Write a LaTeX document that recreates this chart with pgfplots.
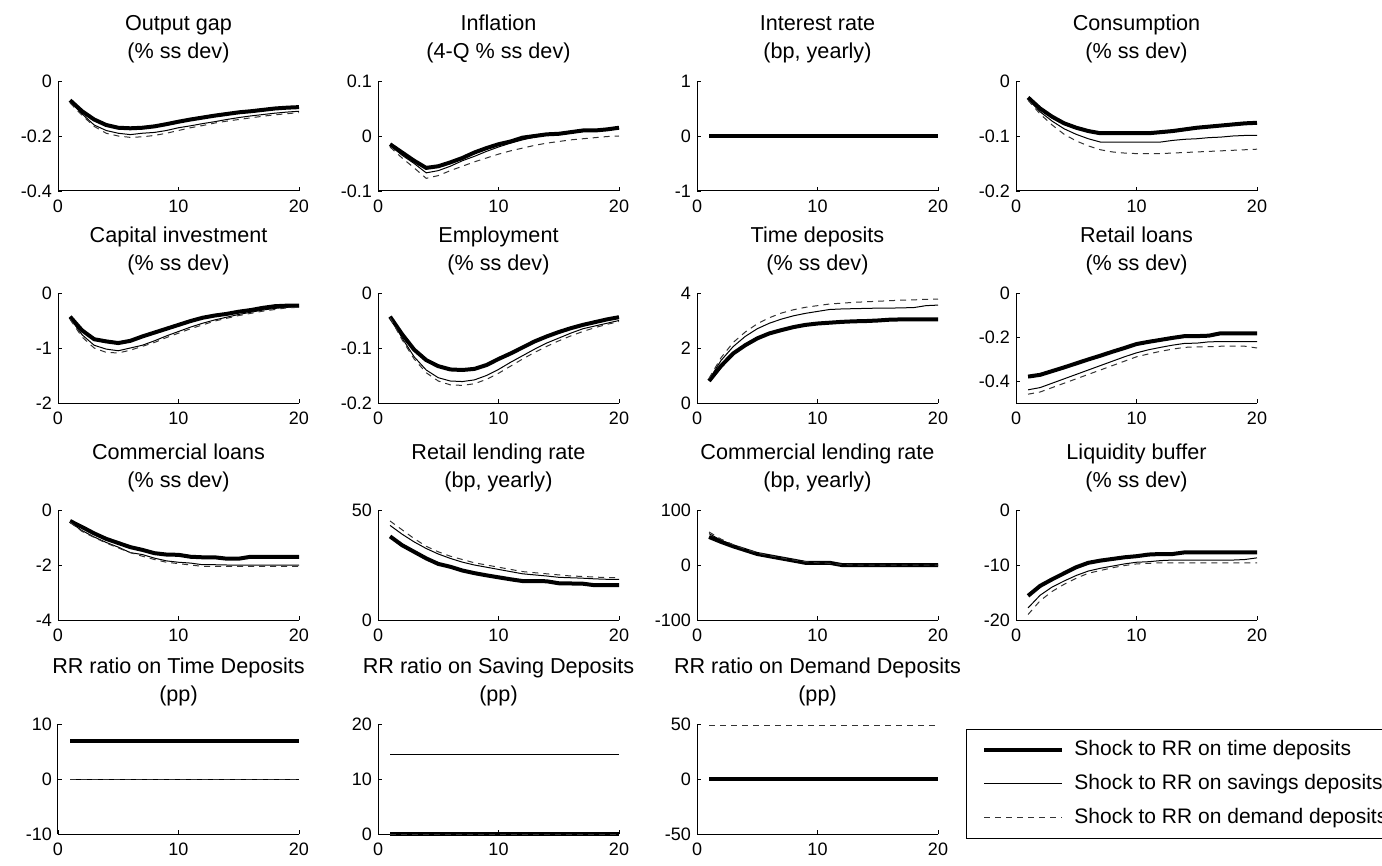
\documentclass[border=0pt]{standalone}
\usepackage{fontspec}
\setmainfont{Liberation Sans}
\usepackage{pgfplots}
\usepackage{pgfplotstable}
\pgfplotsset{compat=1.18}

\pgfplotsset{
  irf/.style={
    scale only axis, width=120.5pt, height=55pt,
    axis x line*=bottom, axis y line*=left,
    xmin=0, xmax=20, xtick={0,10,20},
    tick align=inside, major tick length=2pt,
    tick style={black, line width=0.4pt},
    axis line style={line width=0.5pt},
    ticklabel style={font=\fontsize{9}{10}\selectfont},
    yticklabel style={xshift=0.5pt},
    xticklabel style={yshift=-1pt},
    /pgf/number format/assume math mode=true,
    scaled ticks=false,
    title style={font=\fontsize{10.8}{13.6}\selectfont, align=center,
      at={(0.5,1)}, anchor=south, yshift=3pt, inner sep=0pt},
    clip=false,
  },
  s1/.style={black, line width=2pt},
  s2/.style={black, line width=0.5pt},
  s3/.style={black!80, line width=0.5pt, dash pattern=on 3pt off 2.5pt},
}

% t = quarter, a = time deposits shock, b = savings, c = demand
\pgfplotstableread{
t a b c
1 -0.070 -0.075 -0.080
2 -0.110 -0.120 -0.125
3 -0.140 -0.160 -0.165
4 -0.160 -0.180 -0.190
5 -0.170 -0.190 -0.200
6 -0.172 -0.195 -0.205
7 -0.170 -0.190 -0.203
8 -0.165 -0.187 -0.198
9 -0.157 -0.180 -0.190
10 -0.148 -0.170 -0.180
11 -0.140 -0.163 -0.170
12 -0.133 -0.155 -0.162
13 -0.126 -0.148 -0.153
14 -0.120 -0.140 -0.146
15 -0.114 -0.133 -0.140
16 -0.110 -0.127 -0.134
17 -0.105 -0.122 -0.128
18 -0.100 -0.117 -0.123
19 -0.097 -0.113 -0.119
20 -0.095 -0.110 -0.115
}\tOut

\pgfplotstableread{
t a b c
1 -0.015 -0.017 -0.020
2 -0.030 -0.035 -0.040
3 -0.045 -0.050 -0.058
4 -0.058 -0.067 -0.077
5 -0.055 -0.063 -0.072
6 -0.048 -0.055 -0.063
7 -0.040 -0.045 -0.055
8 -0.030 -0.037 -0.047
9 -0.022 -0.028 -0.040
10 -0.015 -0.020 -0.033
11 -0.010 -0.013 -0.027
12 -0.003 -0.007 -0.022
13 0.000 -0.002 -0.017
14 0.003 0.002 -0.013
15 0.004 0.004 -0.010
16 0.007 0.007 -0.007
17 0.010 0.009 -0.005
18 0.010 0.010 -0.003
19 0.012 0.012 -0.001
20 0.015 0.014 0.000
}\tInf

\pgfplotstableread{
t a b c
1 -0.030 -0.033 -0.035
2 -0.050 -0.056 -0.060
3 -0.065 -0.073 -0.080
4 -0.077 -0.087 -0.097
5 -0.085 -0.097 -0.109
6 -0.091 -0.105 -0.118
7 -0.095 -0.111 -0.125
8 -0.095 -0.111 -0.129
9 -0.095 -0.111 -0.131
10 -0.095 -0.111 -0.132
11 -0.095 -0.111 -0.132
12 -0.093 -0.111 -0.132
13 -0.091 -0.108 -0.131
14 -0.088 -0.106 -0.130
15 -0.085 -0.105 -0.129
16 -0.083 -0.103 -0.128
17 -0.081 -0.102 -0.127
18 -0.079 -0.100 -0.126
19 -0.077 -0.099 -0.125
20 -0.076 -0.099 -0.124
}\tCons

\pgfplotstableread{
t a b c
1 -0.43 -0.46 -0.48
2 -0.68 -0.76 -0.80
3 -0.84 -0.95 -1.00
4 -0.88 -1.02 -1.08
5 -0.91 -1.05 -1.09
6 -0.87 -1.00 -1.04
7 -0.79 -0.95 -0.97
8 -0.72 -0.87 -0.90
9 -0.65 -0.78 -0.81
10 -0.58 -0.70 -0.73
11 -0.51 -0.62 -0.65
12 -0.45 -0.55 -0.58
13 -0.41 -0.49 -0.51
14 -0.38 -0.44 -0.46
15 -0.34 -0.39 -0.41
16 -0.31 -0.35 -0.37
17 -0.27 -0.31 -0.33
18 -0.24 -0.28 -0.30
19 -0.23 -0.26 -0.27
20 -0.23 -0.25 -0.26
}\tInv

\pgfplotstableread{
t a b c
1 -0.043 -0.043 -0.045
2 -0.075 -0.082 -0.085
3 -0.103 -0.116 -0.120
4 -0.122 -0.140 -0.145
5 -0.133 -0.154 -0.160
6 -0.139 -0.160 -0.167
7 -0.140 -0.161 -0.168
8 -0.138 -0.158 -0.165
9 -0.131 -0.150 -0.157
10 -0.120 -0.139 -0.146
11 -0.110 -0.126 -0.133
12 -0.099 -0.114 -0.120
13 -0.088 -0.102 -0.108
14 -0.079 -0.091 -0.097
15 -0.071 -0.082 -0.087
16 -0.064 -0.073 -0.078
17 -0.058 -0.065 -0.070
18 -0.053 -0.060 -0.063
19 -0.048 -0.055 -0.057
20 -0.044 -0.050 -0.052
}\tEmp

\pgfplotstableread{
t a b c
1 0.80 0.85 0.90
2 1.35 1.55 1.65
3 1.80 2.05 2.20
4 2.10 2.42 2.58
5 2.35 2.70 2.88
6 2.53 2.90 3.10
7 2.65 3.05 3.27
8 2.76 3.17 3.39
9 2.84 3.26 3.48
10 2.89 3.33 3.54
11 2.92 3.40 3.60
12 2.95 3.42 3.63
13 2.97 3.43 3.66
14 2.98 3.44 3.68
15 3.00 3.45 3.70
16 3.03 3.45 3.72
17 3.04 3.46 3.74
18 3.04 3.47 3.75
19 3.04 3.54 3.77
20 3.04 3.56 3.78
}\tTD

\pgfplotstableread{
t a b c
1 -0.380 -0.440 -0.460
2 -0.372 -0.430 -0.450
3 -0.355 -0.410 -0.430
4 -0.338 -0.390 -0.410
5 -0.320 -0.370 -0.390
6 -0.302 -0.350 -0.370
7 -0.285 -0.330 -0.350
8 -0.267 -0.310 -0.330
9 -0.250 -0.290 -0.310
10 -0.232 -0.272 -0.290
11 -0.222 -0.258 -0.277
12 -0.213 -0.247 -0.265
13 -0.204 -0.237 -0.255
14 -0.196 -0.229 -0.247
15 -0.196 -0.228 -0.245
16 -0.194 -0.222 -0.244
17 -0.183 -0.221 -0.242
18 -0.183 -0.221 -0.242
19 -0.183 -0.221 -0.242
20 -0.183 -0.221 -0.250
}\tRL

\pgfplotstableread{
t a b c
1 -0.40 -0.45 -0.45
2 -0.62 -0.75 -0.78
3 -0.85 -0.98 -1.00
4 -1.05 -1.18 -1.20
5 -1.20 -1.35 -1.38
6 -1.35 -1.55 -1.55
7 -1.45 -1.62 -1.68
8 -1.57 -1.75 -1.80
9 -1.62 -1.85 -1.90
10 -1.63 -1.90 -1.95
11 -1.70 -1.93 -2.00
12 -1.72 -1.99 -2.05
13 -1.72 -1.99 -2.05
14 -1.77 -2.00 -2.05
15 -1.77 -2.00 -2.05
16 -1.70 -2.00 -2.05
17 -1.70 -2.00 -2.05
18 -1.70 -2.00 -2.05
19 -1.70 -2.00 -2.05
20 -1.70 -2.00 -2.05
}\tCL

\pgfplotstableread{
t a b c
1 38.0 43.0 45.0
2 34.0 39.0 41.0
3 31.0 35.5 37.0
4 28.0 32.5 33.5
5 25.5 30.0 31.0
6 24.2 28.0 29.0
7 22.5 26.3 27.5
8 21.3 25.0 26.0
9 20.3 24.0 25.0
10 19.4 23.0 24.0
11 18.5 22.0 23.0
12 17.7 21.0 22.0
13 17.7 20.5 21.5
14 17.6 20.0 21.0
15 16.7 19.4 20.5
16 16.6 19.2 20.0
17 16.5 19.0 19.8
18 15.8 18.7 19.5
19 15.8 18.5 19.3
20 15.8 18.5 19.2
}\tRLR

\pgfplotstableread{
t a b c
1 51 57 60
2 42 45 47
3 34 36 37
4 27 28 29
5 20 21 22
6 16 17 17
7 12 12 13
8 8 8 9
9 4 5 6
10 4 4 4
11 4 3 3
12 0 1 1
13 0 0 0
14 0 0 0
15 0 0 0
16 0 0 0
17 0 0 0
18 0 0 0
19 0 0 0
20 0 0 0
}\tCLR

\pgfplotstableread{
t a b c
1 -15.6 -17.8 -19.0
2 -13.8 -15.5 -16.5
3 -12.6 -14.0 -14.8
4 -11.5 -12.9 -13.5
5 -10.4 -11.9 -12.4
6 -9.6 -11.1 -11.5
7 -9.2 -10.6 -11.0
8 -8.9 -10.2 -10.5
9 -8.6 -9.8 -10.1
10 -8.4 -9.5 -9.8
11 -8.1 -9.4 -9.7
12 -8.0 -9.2 -9.6
13 -8.0 -9.1 -9.6
14 -7.7 -9.1 -9.6
15 -7.7 -9.1 -9.6
16 -7.7 -9.1 -9.6
17 -7.7 -9.1 -9.6
18 -7.7 -9.1 -9.6
19 -7.7 -9.0 -9.6
20 -7.7 -8.7 -9.6
}\tLiq

\begin{document}
\begin{tikzpicture}
\path[use as bounding box] (0pt,0pt) rectangle (691pt,-433pt);

% ---- row 1
\begin{axis}[irf, at={(29pt,-95.5pt)}, anchor=south west,
  ymin=-0.4, ymax=0, ytick={-0.4,-0.2,0}, title={Output gap\\(\% ss dev)}]
\addplot[s1] table[x=t,y=a] {\tOut};
\addplot[s2] table[x=t,y=b] {\tOut};
\addplot[s3] table[x=t,y=c] {\tOut};
\end{axis}
\begin{axis}[irf, at={(189pt,-95.5pt)}, anchor=south west,
  ymin=-0.1, ymax=0.1, ytick={-0.1,0,0.1}, title={Inflation\\(4-Q \% ss dev)}]
\addplot[s1] table[x=t,y=a] {\tInf};
\addplot[s2] table[x=t,y=b] {\tInf};
\addplot[s3] table[x=t,y=c] {\tInf};
\end{axis}
\begin{axis}[irf, at={(348.5pt,-95.5pt)}, anchor=south west,
  ymin=-1, ymax=1, ytick={-1,0,1}, title={Interest rate\\(bp, yearly)}]
\addplot[s2] coordinates {(1,0) (20,0)};
\addplot[s3] coordinates {(1,0) (20,0)};
\addplot[s1] coordinates {(1,0) (20,0)};
\end{axis}
\begin{axis}[irf, at={(508pt,-95.5pt)}, anchor=south west,
  ymin=-0.2, ymax=0, ytick={-0.2,-0.1,0}, title={Consumption\\(\% ss dev)}]
\addplot[s1] table[x=t,y=a] {\tCons};
\addplot[s2] table[x=t,y=b] {\tCons};
\addplot[s3] table[x=t,y=c] {\tCons};
\end{axis}

% ---- row 2
\begin{axis}[irf, at={(29pt,-201.5pt)}, anchor=south west,
  ymin=-2, ymax=0, ytick={-2,-1,0}, title={Capital investment\\(\% ss dev)}]
\addplot[s1] table[x=t,y=a] {\tInv};
\addplot[s2] table[x=t,y=b] {\tInv};
\addplot[s3] table[x=t,y=c] {\tInv};
\end{axis}
\begin{axis}[irf, at={(189pt,-201.5pt)}, anchor=south west,
  ymin=-0.2, ymax=0, ytick={-0.2,-0.1,0}, title={Employment\\(\% ss dev)}]
\addplot[s1] table[x=t,y=a] {\tEmp};
\addplot[s2] table[x=t,y=b] {\tEmp};
\addplot[s3] table[x=t,y=c] {\tEmp};
\end{axis}
\begin{axis}[irf, at={(348.5pt,-201.5pt)}, anchor=south west,
  ymin=0, ymax=4, ytick={0,2,4}, title={Time deposits\\(\% ss dev)}]
\addplot[s1] table[x=t,y=a] {\tTD};
\addplot[s2] table[x=t,y=b] {\tTD};
\addplot[s3] table[x=t,y=c] {\tTD};
\end{axis}
\begin{axis}[irf, at={(508pt,-201.5pt)}, anchor=south west,
  ymin=-0.5, ymax=0, ytick={-0.4,-0.2,0}, title={Retail loans\\(\% ss dev)}]
\addplot[s1] table[x=t,y=a] {\tRL};
\addplot[s2] table[x=t,y=b] {\tRL};
\addplot[s3] table[x=t,y=c] {\tRL};
\end{axis}

% ---- row 3
\begin{axis}[irf, at={(29pt,-310pt)}, anchor=south west,
  ymin=-4, ymax=0, ytick={-4,-2,0}, title={Commercial loans\\(\% ss dev)}]
\addplot[s1] table[x=t,y=a] {\tCL};
\addplot[s2] table[x=t,y=b] {\tCL};
\addplot[s3] table[x=t,y=c] {\tCL};
\end{axis}
\begin{axis}[irf, at={(189pt,-310pt)}, anchor=south west,
  ymin=0, ymax=50, ytick={0,50}, title={Retail lending rate\\(bp, yearly)}]
\addplot[s1] table[x=t,y=a] {\tRLR};
\addplot[s2] table[x=t,y=b] {\tRLR};
\addplot[s3] table[x=t,y=c] {\tRLR};
\end{axis}
\begin{axis}[irf, at={(348.5pt,-310pt)}, anchor=south west,
  ymin=-100, ymax=100, ytick={-100,0,100}, title={Commercial lending rate\\(bp, yearly)}]
\addplot[s1] table[x=t,y=a] {\tCLR};
\addplot[s2] table[x=t,y=b] {\tCLR};
\addplot[s3] table[x=t,y=c] {\tCLR};
\end{axis}
\begin{axis}[irf, at={(508pt,-310pt)}, anchor=south west,
  ymin=-20, ymax=0, ytick={-20,-10,0}, title={Liquidity buffer\\(\% ss dev)}]
\addplot[s1] table[x=t,y=a] {\tLiq};
\addplot[s2] table[x=t,y=b] {\tLiq};
\addplot[s3] table[x=t,y=c] {\tLiq};
\end{axis}

% ---- row 4
\begin{axis}[irf, at={(29pt,-417pt)}, anchor=south west,
  ymin=-10, ymax=10, ytick={-10,0,10}, title={RR ratio on Time Deposits\\(pp)}]
\addplot[s1] coordinates {(1,7) (20,7)};
\addplot[s2] coordinates {(1,0) (20,0)};
\addplot[s3] coordinates {(1,0) (20,0)};
\end{axis}
\begin{axis}[irf, at={(189pt,-417pt)}, anchor=south west,
  ymin=0, ymax=20, ytick={0,10,20}, title={RR ratio on Saving Deposits\\(pp)}]
\addplot[s1] coordinates {(1,0) (20,0)};
\addplot[s2] coordinates {(1,14.4) (20,14.4)};
\addplot[s3] coordinates {(1,0) (20,0)};
\end{axis}
\begin{axis}[irf, at={(348.5pt,-417pt)}, anchor=south west,
  ymin=-50, ymax=50, ytick={-50,0,50}, title={RR ratio on Demand Deposits\\(pp)},
  legend style={at={(1.116,0.955)}, anchor=north west, draw=black, line width=0.5pt,
    font=\fontsize{10.5}{12}\selectfont, inner xsep=8pt, inner ysep=5pt,
    nodes={inner sep=0pt, text height=8pt, text depth=2.5pt},
    row sep=6.5pt, column sep=5pt, cells={anchor=west}},
  legend image code/.code={\draw[#1] (0pt,0pt) -- (39pt,0pt);}]
\addplot[s1] coordinates {(1,0) (20,0)};
\addplot[s2] coordinates {(1,0) (20,0)};
\addplot[s3] coordinates {(1,48.5) (20,48.5)};
\legend{Shock to RR on time deposits, Shock to RR on savings deposits, Shock to RR on demand deposits}
\end{axis}
\end{tikzpicture}
\end{document}
